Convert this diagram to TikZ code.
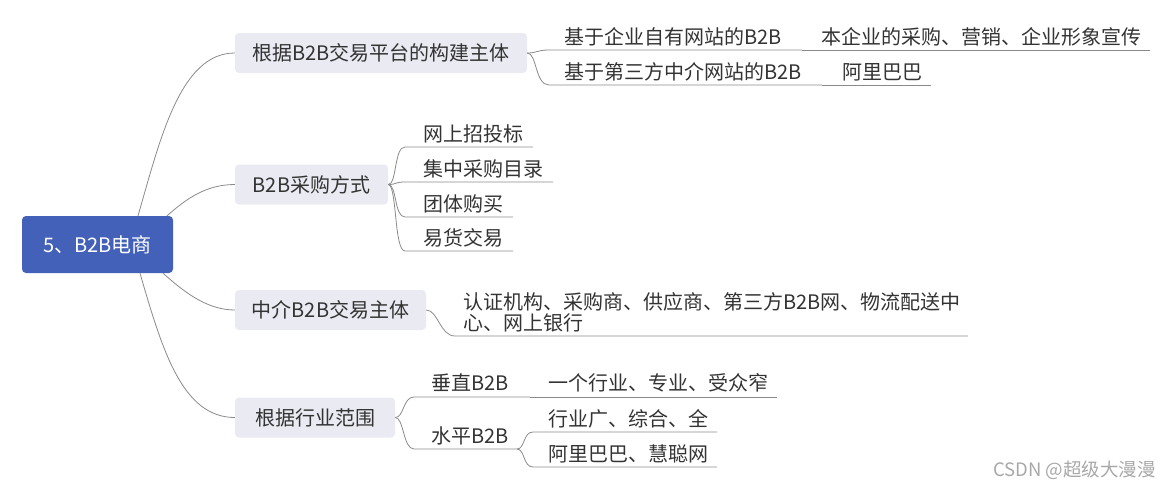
\documentclass[tikz,border=0pt]{standalone}
\usepackage{fontspec}
\newfontfamily\cjk{Noto Sans CJK SC}
\usetikzlibrary{calc}
\definecolor{rootblue}{HTML}{4361B9}
\definecolor{boxgrey}{HTML}{E9EAF2}
\definecolor{txt}{HTML}{333333}
\definecolor{linegrey}{HTML}{8A8A8A}
\definecolor{wmgrey}{HTML}{A8A8A8}
\begin{document}
\begin{tikzpicture}[x=1pt,y=-1pt,
  rootbox/.style={fill=rootblue, rounded corners=4pt, minimum width=151pt, minimum height=57pt, text=white, inner sep=0pt, font=\cjk\fontsize{20}{23}\selectfont},
  lonebox/.style={fill=boxgrey, rounded corners=4pt, minimum height=40pt, text=txt, inner sep=0pt, font=\cjk\fontsize{20}{23}\selectfont},
  leaf/.style={anchor=west, inner sep=0pt, text=txt, font=\cjk\fontsize{20}{21}\selectfont},
  conn/.style={draw=linegrey, line width=0.8pt}]
\useasboundingbox (0,0) rectangle (1171,488);

% root and main branches
\node[rootbox] (root) at (97.5,244.5) {5、B2B电商};
\node[lonebox, minimum width=292pt] (b1) at (381,53) {根据B2B交易平台的构建主体};
\node[lonebox, minimum width=153pt] (b2) at (311.5,184.5) {B2B采购方式};
\node[lonebox, minimum width=191pt] (b3) at (330.5,310) {中介B2B交易主体};
\node[lonebox, minimum width=160pt] (b4) at (315,417.5) {根据行业范围};

\coordinate (r1) at ($(root.north)+(40.5,0)$);
\coordinate (r2) at ($(root.north)+(69.5,0)$);
\coordinate (r3) at ($(root.south)+(65.5,0)$);
\coordinate (r4) at ($(root.south)+(42.5,0)$);
\draw[conn] (r1) .. controls (160,140) and (180,53) .. (b1.west);
\draw[conn] (r2) .. controls (185,200) and (205,184.5) .. (b2.west);
\draw[conn] (r3) .. controls (181,289) and (205,310) .. (b3.west);
\draw[conn] (r4) .. controls (162,349) and (182,417.5) .. (b4.west);

% branch 1
\coordinate (u11) at (549,50); \coordinate (v11) at (802,50); \coordinate (w11) at (1150,50);
\coordinate (u12) at (549,85); \coordinate (v12) at (822,85); \coordinate (w12) at (931,85);
\node[leaf] (t11) at (564,37) {基于企业自有网站的B2B};
\node[leaf] (t111) at (821,37) {本企业的采购、营销、企业形象宣传};
\node[leaf] (t12) at (564,72) {基于第三方中介网站的B2B};
\node[leaf] (t121) at (842,72) {阿里巴巴};
\draw[conn] (b1.east) .. controls (537,53) and (537,50) .. (u11) -- (v11);
\draw[conn] (v11) -- (w11);
\draw[conn] (b1.east) .. controls (537,53) and (535,85) .. (u12) -- (v12);
\draw[conn] (v12) -- (w12);

% branch 2
\coordinate (u21) at (405,147); \coordinate (v21) at (533,147);
\coordinate (u22) at (405,182); \coordinate (v22) at (553,182);
\coordinate (u23) at (405,217); \coordinate (v23) at (513,217);
\coordinate (u24) at (405,251); \coordinate (v24) at (513,251);
\node[leaf] (t21) at (423,133.5) {网上招投标};
\node[leaf] (t22) at (423,168.5) {集中采购目录};
\node[leaf] (t23) at (423,203.5) {团体购买};
\node[leaf] (t24) at (423,237.5) {易货交易};
\draw[conn] (b2.east) .. controls (397,184.5) and (394,147) .. (u21) -- (v21);
\draw[conn] (b2.east) .. controls (397,184.5) and (394,182) .. (u22) -- (v22);
\draw[conn] (b2.east) .. controls (397,184.5) and (394,217) .. (u23) -- (v23);
\draw[conn] (b2.east) .. controls (397,184.5) and (394,251) .. (u24) -- (v24);

% branch 3
\coordinate (u31) at (455,336); \coordinate (v31) at (968,336);
\node[leaf, align=left] (t31) at (463,312.5) {认证机构、采购商、供应商、第三方B2B网、物流配送中\\心、网上银行};
\draw[conn] (b3.east) .. controls (438,310) and (440,336) .. (u31) -- (v31);

% branch 4
\coordinate (u41) at (414,397); \coordinate (v41) at (530,397); \coordinate (w41) at (777,397);
\coordinate (u42) at (414,449); \coordinate (v42) at (517,449);
\coordinate (u421) at (533,432); \coordinate (v421) at (717,432);
\coordinate (u422) at (533,467); \coordinate (v422) at (717,467);
\node[leaf] (t41) at (431,383) {垂直B2B};
\node[leaf] (t411) at (548,383) {一个行业、专业、受众窄};
\node[leaf] (t42) at (431,436) {水平B2B};
\node[leaf] (t421) at (548,419) {行业广、综合、全};
\node[leaf] (t422) at (548,454) {阿里巴巴、慧聪网};
\draw[conn] (b4.east) .. controls (404,417.5) and (403,397) .. (u41) -- (v41);
\draw[conn] (v41) -- (w41);
\draw[conn] (b4.east) .. controls (404,417.5) and (403,449) .. (u42) -- (v42);
\draw[conn] (v42) .. controls (525,449) and (523,432) .. (u421) -- (v421);
\draw[conn] (v42) .. controls (525,449) and (523,467) .. (u422) -- (v422);

% watermark
\node[anchor=east, inner sep=0pt, text=wmgrey, font=\cjk\fontsize{18.5}{21}\selectfont] (wm) at (1156,470) {CSDN @超级大漫漫};
\end{tikzpicture}
\end{document}
